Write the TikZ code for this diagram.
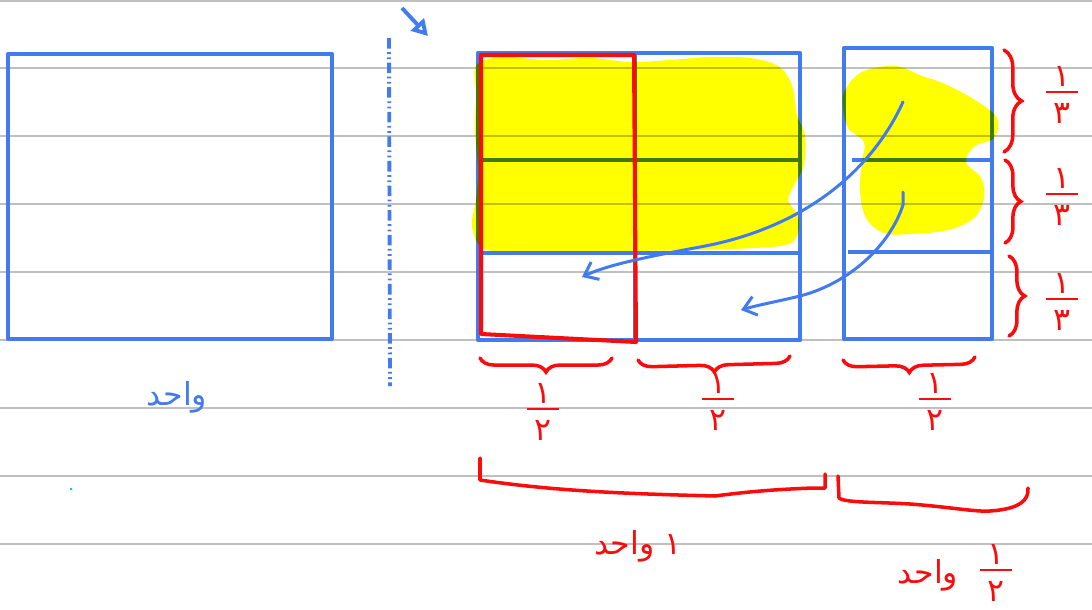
\documentclass[tikz,border=0pt]{standalone}
\usepackage{fontspec}
\usepackage{tikz}
\usetikzlibrary{arrows.meta, decorations.pathreplacing, positioning}
\newfontfamily\arabicfont[Script=Arabic]{DejaVu Sans}
\TeXXeTstate=1
\definecolor{penblue}{RGB}{66,122,240}
\definecolor{penred}{RGB}{250,12,12}
\definecolor{ruleline}{RGB}{192,192,192}
\definecolor{hilite}{RGB}{255,255,0}
\definecolor{dotcyan}{RGB}{20,180,230}
% handwritten style fraction: numerator over bar over denominator
\newcommand{\pfrac}[2]{{\setlength{\arrayrulewidth}{1.5pt}\begin{tabular}{@{\hspace{4pt}}c@{\hspace{4pt}}}#1\\[-3pt]\hline\rule{0pt}{17pt}#2\end{tabular}}}

\begin{document}
\begin{tikzpicture}[x=0.02cm, y=-0.02cm, every node/.style={font=\arabicfont}]
    % Define styles
    \tikzstyle{ruled} = [ruleline, line width=0.7pt]
    \tikzstyle{bluebox} = [penblue, line width=2.4pt, line join=round]
    \tikzstyle{redbox} = [penred, line width=2.3pt, line join=round]
    \tikzstyle{redbrace} = [penred, line width=2pt, decorate, line cap=round]
    \tikzstyle{redline} = [penred, line width=2pt, line cap=round, line join=round]
    \tikzstyle{bluearrow} = [penblue, line width=1.7pt, line cap=round, -{Straight Barb[length=7pt, width=11pt]}]
    \tikzstyle{redlabel} = [text=penred, font=\arabicfont\fontsize{18}{19}\selectfont, inner sep=0pt]
    \tikzstyle{bluelabel} = [text=penblue, font=\arabicfont\fontsize{18}{19}\selectfont, inner sep=0pt]

    \useasboundingbox (0,0) rectangle (1092,609);
    \fill[white] (0,0) rectangle (1092,609);

    % Ruled paper
    \foreach \y in {1,68,136,204,272,340,408,476,544}
        \draw[ruled] (0,\y) -- (1092,\y);

    % Whole unit on the left
    \draw[bluebox] (8,54) rectangle (332,339);
    \node (unitA) [bluelabel] at (177,397) {\beginR واحد\endR};
    \fill[dotcyan] (71,489) circle (1.3);

    % Dash-dot separator and the small arrow
    \draw[penblue, line width=2.2pt, dash pattern=on 6pt off 2pt on 1pt off 2pt on 1pt off 2pt] (389,38) -- (390,386);
    \coordinate (tickA) at (402,8);
    \coordinate (tickB) at (428,36);
    \draw[penblue, line width=2.2pt, line join=round, -{Triangle[open, length=9pt, width=10pt]}] (tickA) -- (tickB);

    % Middle unit: 2 columns x 3 rows
    \draw[bluebox] (478,53) rectangle (800,340);
    \draw[bluebox] (635,53) -- (635,340);
    \draw[bluebox] (480,160) -- (800,160);
    \draw[bluebox] (480,253) -- (798,253);

    % Right half unit: 1 column x 3 rows
    \draw[bluebox] (844,48) rectangle (992,339);
    \draw[bluebox] (852,160) -- (992,160);
    \draw[bluebox] (848,252) -- (992,252);

    % Red marked column
    \draw[redbox] (481,55) -- (634,55) -- (636,342) -- (481,334) -- cycle;

    % Yellow highlighting
    \begin{scope}[blend mode=multiply]
        \fill[hilite] plot[smooth cycle, tension=0.55] coordinates {(476,66) (500,57) (545,60) (590,58) (630,62) (670,60) (710,57) (750,58) (778,66) (792,85) (797,115) (805,135) (804,165) (796,182) (788,200) (798,216) (797,236) (780,246) (700,250) (600,251) (510,251) (482,248) (472,226) (476,200) (478,170) (475,130) (476,95)};
        \fill[hilite] plot[smooth cycle, tension=0.6] coordinates {(845,90) (862,72) (895,66) (922,76) (945,84) (975,100) (997,118) (994,138) (975,146) (966,162) (981,178) (984,198) (974,218) (948,230) (910,234) (884,233) (866,218) (860,190) (862,162) (864,142) (848,128) (843,106)};
    \end{scope}

    % Moving arrows
    \coordinate (fromTop) at (903,102);
    \coordinate (toTop) at (582,277);
    \coordinate (fromMid) at (903,192);
    \coordinate (toMid) at (741,310);
    \draw[bluearrow] (fromTop) .. controls (872,170) and (805,228) .. (700,247) .. controls (640,258) and (605,266) .. (toTop);
    \draw[bluearrow] (fromMid) -- (903,205) .. controls (890,245) and (850,283) .. (800,296) .. controls (775,302) and (758,305) .. (toMid);

    % Braces under the columns
    \draw[redbrace, decoration={brace, amplitude=8pt}] (612,358) -- (480,358);
    \draw[redbrace, decoration={brace, amplitude=8pt}] (790,356) -- (638,360);
    \draw[redbrace, decoration={brace, amplitude=8pt}] (975,357) -- (843,360);
    \node (halfA) [redlabel] at (543,415) {\pfrac{۱}{۲}};
    \node (halfB) [redlabel] at (718,405) {\pfrac{۱}{۲}};
    \node (halfC) [redlabel] at (935,405) {\pfrac{۱}{۲}};

    % Braces beside the rows
    \draw[redbrace, decoration={brace, amplitude=10pt}] (1004,50) -- (1004,152);
    \draw[redbrace, decoration={brace, amplitude=9pt}] (1005,160) -- (1005,243);
    \draw[redbrace, decoration={brace, amplitude=9pt}] (1009,256) -- (1009,336);
    \node (thirdA) [redlabel] at (1062,98) {\pfrac{۱}{۳}};
    \node (thirdB) [redlabel] at (1062,200) {\pfrac{۱}{۳}};
    \node (thirdC) [redlabel] at (1062,305) {\pfrac{۱}{۳}};

    % Brackets for one unit and half unit
    \draw[redline] (480,458) -- (480,480) .. controls (560,492) and (640,494) .. (715,496) .. controls (760,490) and (790,489) .. (812,488) -- (825,488) -- (825,474);
    \draw[redline] (838,476) -- (839,498) .. controls (845,503) and (880,502) .. (910,504) .. controls (950,507) and (975,512) .. (990,511) .. controls (1020,509) and (1029,500) .. (1028,488);
    \node (oneUnit) [redlabel] at (638,546) {\beginR ۱ واحد\endR};
    \node (halfUnit) [redlabel] at (928,575) {\beginR واحد\endR};
    \node (halfNum) [redlabel] at (996,576) {\pfrac{۱}{۲}};
\end{tikzpicture}
\end{document}
